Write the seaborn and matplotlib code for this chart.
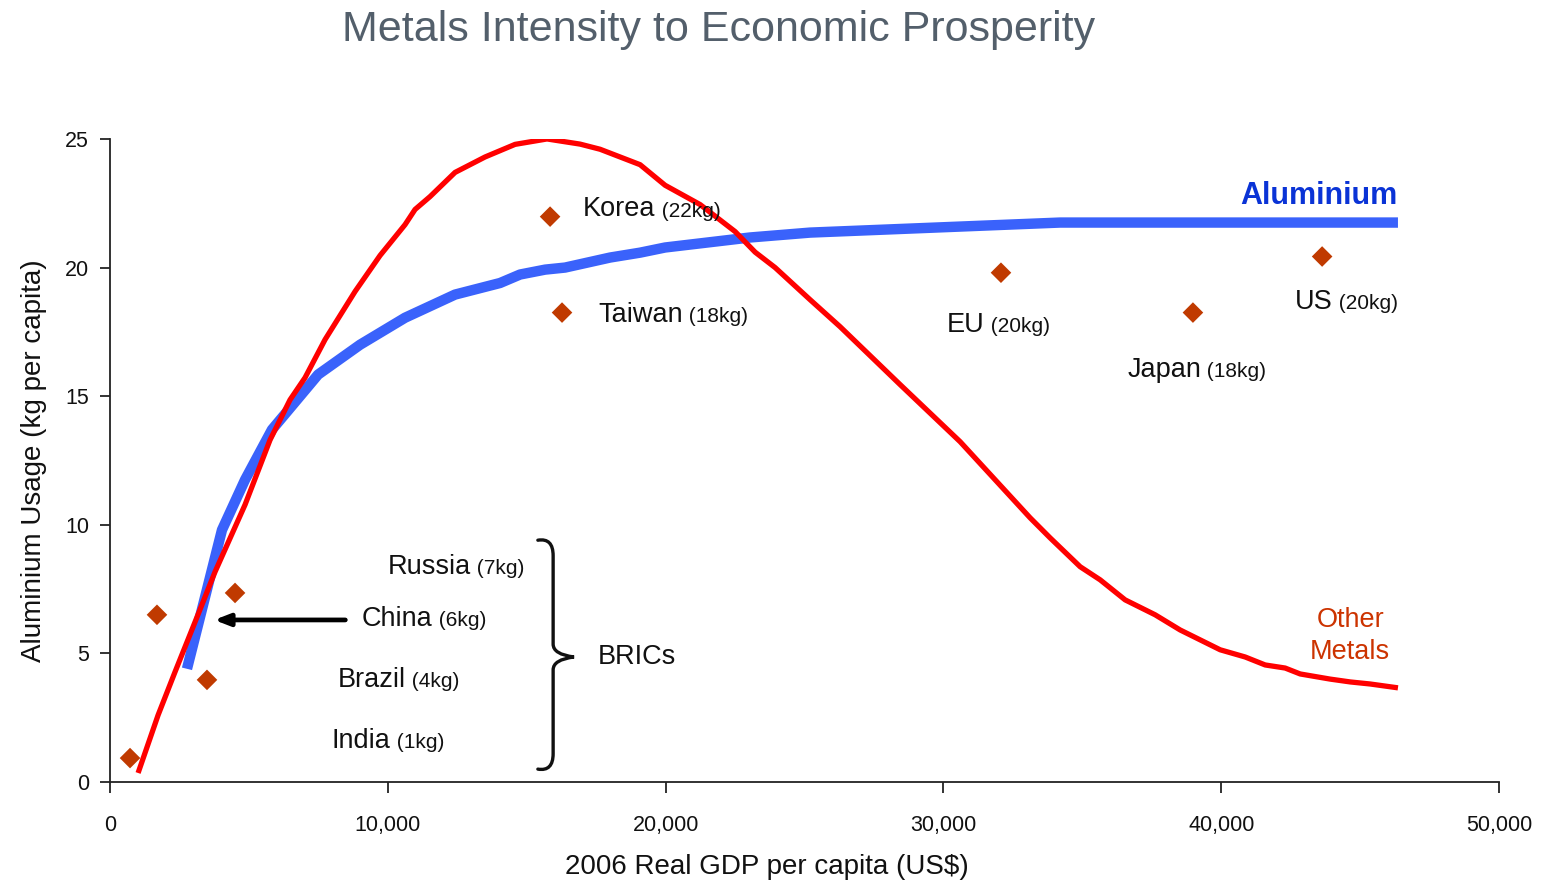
import numpy as np
import pandas as pd
import matplotlib
matplotlib.use('Agg')
import matplotlib.pyplot as plt
from matplotlib.path import Path
from matplotlib.patches import PathPatch
import seaborn as sns

# data
al_gdp = [2770, 4030, 4860, 5830, 7490, 9000, 10620, 12420, 14040, 14760, 15660,
          16380, 18000, 19080, 19980, 23040, 25200, 34200, 46360]
al_usage = [4.4, 9.8, 11.75, 13.7, 15.84, 17.0, 18.05, 18.95, 19.4, 19.73, 19.92,
            20.0, 20.39, 20.58, 20.78, 21.17, 21.36, 21.75, 21.75]

om_gdp = [1010, 1730, 2340, 3060, 3780, 4860, 5760, 6480, 7020, 7740, 8820, 9720,
          10620, 10980, 11520, 12420, 13500, 14580, 15730, 16920, 17640, 19080,
          19980, 21240, 22500, 23220, 23940, 25200, 26280, 28440, 30600, 33120,
          33840, 34920, 35640, 36540, 37620, 38520, 39960, 40860, 41580, 42300,
          42840, 43920, 44640, 45360, 46360]
om_usage = [0.35, 2.6, 4.28, 6.22, 8.17, 10.78, 13.3, 14.86, 15.72, 17.2, 19.07,
            20.47, 21.67, 22.26, 22.76, 23.7, 24.3, 24.79, 25.0, 24.8, 24.6, 24.0,
            23.2, 22.45, 21.4, 20.6, 20.0, 18.75, 17.7, 15.45, 13.23, 10.27, 9.49,
            8.37, 7.86, 7.08, 6.5, 5.91, 5.14, 4.86, 4.55, 4.43, 4.2, 4.0, 3.89,
            3.81, 3.66]

countries = ['India', 'China', 'Brazil', 'Russia', 'Korea', 'Taiwan', 'EU', 'Japan', 'US']
country_gdp = [720, 1690, 3490, 4500, 15840, 16270, 32070, 38980, 43630]
country_usage = [0.93, 6.5, 3.97, 7.35, 21.98, 18.25, 19.8, 18.25, 20.43]
country_kg = ['(1kg)', '(6kg)', '(4kg)', '(7kg)', '(22kg)', '(18kg)', '(20kg)', '(18kg)', '(20kg)']
# label anchor (left edge, vertical centre) in data units
label_x = [7990, 9070, 8210, 10010, 17030, 17570, 30130, 36610, 42660]
label_y = [1.6, 6.34, 3.97, 8.37, 22.26, 18.17, 17.78, 16.03, 18.68]

sns.set_style('ticks')
plt.rcParams['font.family'] = ['Liberation Sans', 'DejaVu Sans']

fig = plt.figure(figsize=(15.41, 8.84), dpi=100)
ax = fig.add_axes([0.0714, 0.1154, 0.9014, 0.7274])

al = pd.DataFrame({'gdp': al_gdp, 'usage': al_usage})
om = pd.DataFrame({'gdp': om_gdp, 'usage': om_usage})
pts = pd.DataFrame({'gdp': country_gdp, 'usage': country_usage})

sns.lineplot(data=al, x='gdp', y='usage', ax=ax, color='#3a62fb', lw=7.5,
             solid_capstyle='butt', sort=False, zorder=2)
sns.lineplot(data=om, x='gdp', y='usage', ax=ax, color='#ff0000', lw=3.8,
             solid_capstyle='butt', sort=False, zorder=3)
sns.scatterplot(data=pts, x='gdp', y='usage', ax=ax, marker='D', s=110,
                color='#c03a00', edgecolor='none', zorder=4)

# country labels: name large, amount smaller
for name, kg, lx, ly in zip(countries, country_kg, label_x, label_y):
    t = ax.text(lx, ly, name, fontsize=19.5, va='center', ha='left', color='#111111')
    ax.annotate(' ' + kg, xy=(1, 0), xycoords=t, xytext=(0, 1.2),
                textcoords='offset points', fontsize=15, va='bottom', ha='left',
                color='#111111')

# brace for BRICs
bx, top, bot, mid = 15950, 9.4, 0.5, 4.86
tip = bx + 750
verts = [(bx - 550, top), (bx, top + 0.1), (bx, top - 0.6),
         (bx, mid + 0.5),
         (bx, mid + 0.1), (tip, mid),
         (bx, mid - 0.1), (bx, mid - 0.5),
         (bx, bot + 0.6),
         (bx, bot - 0.1), (bx - 550, bot)]
codes = [Path.MOVETO, Path.CURVE3, Path.CURVE3,
         Path.LINETO,
         Path.CURVE3, Path.CURVE3,
         Path.CURVE3, Path.CURVE3,
         Path.LINETO,
         Path.CURVE3, Path.CURVE3]
ax.add_patch(PathPatch(Path(verts, codes), fill=False, lw=2.4, edgecolor='#111111',
                       zorder=5, capstyle='round'))
ax.text(17570, 4.86, 'BRICs', fontsize=19.5, va='center', ha='left', color='#111111')

# arrow pointing at China on the curve
ax.annotate('', xy=(3650, 6.3), xytext=(8570, 6.3),
            arrowprops=dict(arrowstyle='-|>,head_length=0.9,head_width=0.35',
                            lw=3.4, color='black'))

ax.text(46330, 22.8, 'Aluminium', fontsize=22, fontweight='bold', color='#0a33d6',
        ha='right', va='center')
ax.text(44640, 5.68, 'Other\nMetals', fontsize=19.5, color='#cc3300',
        ha='center', va='center', linespacing=1.3)

ax.set_xlim(0, 50000)
ax.set_ylim(0, 25)
ax.set_xticks(np.arange(0, 50001, 10000))
ax.set_xticklabels(['0', '10,000', '20,000', '30,000', '40,000', '50,000'])
ax.set_yticks(np.arange(0, 26, 5))
ax.tick_params(axis='x', length=8, width=1.2, pad=16, labelsize=15.5, colors='#111111')
ax.tick_params(axis='y', length=7, width=1.2, pad=8, labelsize=15.5, colors='#111111')
ax.set_xlabel('2006 Real GDP per capita (US$)', fontsize=20, color='#111111',
              labelpad=13, x=0.473)
ax.set_ylabel('Aluminium Usage (kg per capita)', fontsize=20, color='#111111', labelpad=13)
for side in ['top', 'right']:
    ax.spines[side].set_visible(False)
for side in ['left', 'bottom']:
    ax.spines[side].set_linewidth(1.3)
    ax.spines[side].set_color('#222222')

fig.text(0.466, 0.966, 'Metals Intensity to Economic Prosperity', fontsize=31,
         color='#535f6b', ha='center', va='center')

fig.savefig('out.png', dpi=100)
